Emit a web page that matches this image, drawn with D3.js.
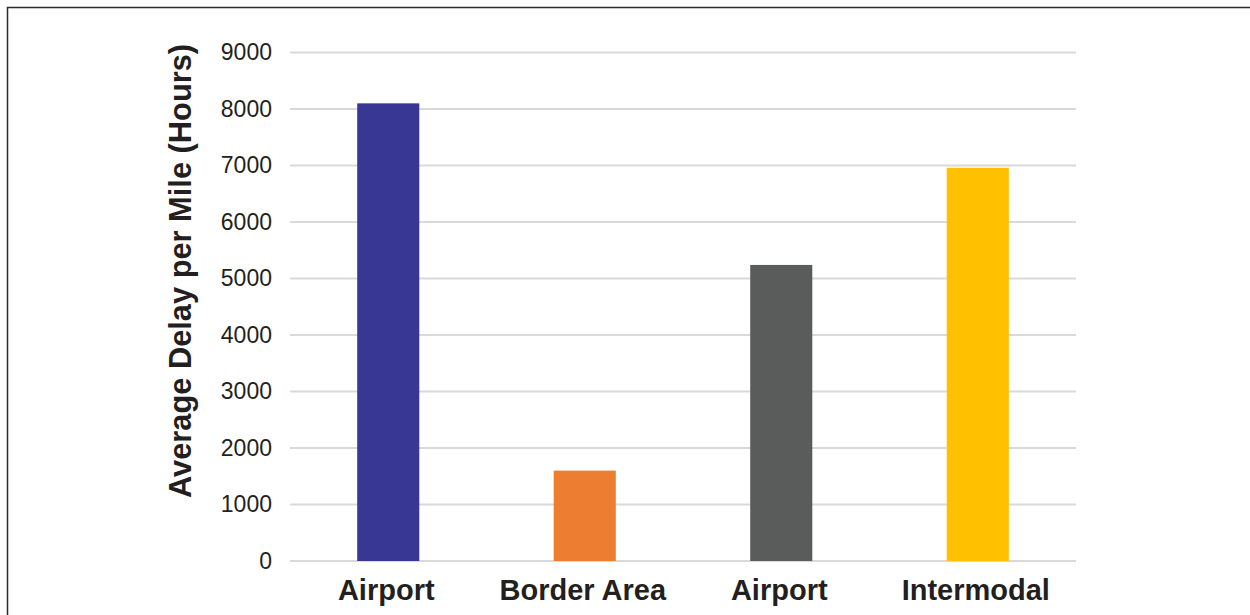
<!DOCTYPE html>
<html>
<head>
<meta charset="utf-8">
<script src="https://cdn.jsdelivr.net/npm/d3@7"></script>
<style>
  html, body { margin: 0; padding: 0; background: #fff; }
  svg { display: block; }
  text { font-family: "Liberation Sans", Arial, Helvetica, sans-serif; }
</style>
</head>
<body>
<svg id="chart" width="1250" height="615"></svg>
<script>
// Facility types and their average delay per mile (hours)
const categories = ["Airport", "Border Area", "Airport", "Intermodal"];
const delayHours = [8100, 1600, 5240, 6960];
const barColors  = ["#383894", "#ED7D31", "#5A5C5B", "#FFC000"];
const yTicks     = [0, 1000, 2000, 3000, 4000, 5000, 6000, 7000, 8000, 9000];
const yTitle     = "Average Delay per Mile (Hours)";

const svg = d3.select("#chart");

// Outer frame
svg.append("rect")
  .attr("x", 7.5).attr("y", 7.5)
  .attr("width", 1260).attr("height", 640)
  .attr("fill", "none")
  .attr("stroke", "#2b2b2b")
  .attr("stroke-width", 1.5);

const plot = { left: 290, right: 1076, top: 52.5, bottom: 561 };

const x = d3.scaleBand()
  .domain(d3.range(categories.length))
  .range([plot.left, plot.right])
  .paddingInner(0.684)
  .paddingOuter(0.342);

const y = d3.scaleLinear()
  .domain([0, 9000])
  .range([plot.bottom, plot.top]);

// Horizontal gridlines
svg.append("g")
  .selectAll("line")
  .data(yTicks)
  .join("line")
  .attr("x1", plot.left).attr("x2", plot.right)
  .attr("y1", d => y(d)).attr("y2", d => y(d))
  .attr("stroke", "#d9d9d9")
  .attr("stroke-width", 2);

// Bars
svg.append("g")
  .selectAll("rect")
  .data(delayHours)
  .join("rect")
  .attr("x", (d, i) => x(i))
  .attr("y", d => y(d))
  .attr("width", x.bandwidth())
  .attr("height", d => y(0) - y(d))
  .attr("fill", (d, i) => barColors[i]);

// Y axis labels
const yAxis = svg.append("g")
  .attr("transform", `translate(${plot.left},0)`)
  .call(d3.axisLeft(y).tickValues(yTicks).tickSize(0).tickPadding(18).tickFormat(d3.format("d")));
yAxis.select(".domain").remove();
yAxis.selectAll("text")
  .attr("font-size", 23)
  .attr("fill", "#231f20")
  .style("font-family", "'Liberation Sans', Arial, sans-serif");

// X axis labels
const xAxis = svg.append("g")
  .attr("transform", `translate(0,${plot.bottom})`)
  .call(d3.axisBottom(x).tickSize(0).tickPadding(0).tickFormat(i => categories[i]));
xAxis.select(".domain").remove();
xAxis.selectAll("text")
  .attr("dy", null)
  .attr("y", 39)
  .attr("x", -2)
  .attr("font-size", 29)
  .attr("font-weight", "bold")
  .attr("fill", "#231f20")
  .style("font-family", "'Liberation Sans', Arial, sans-serif");

// Y axis title
svg.append("text")
  .attr("transform", "translate(191,271) rotate(-90)")
  .attr("text-anchor", "middle")
  .attr("font-size", 30.8)
  .attr("font-weight", "bold")
  .attr("fill", "#231f20")
  .text(yTitle);
</script>
</body>
</html>
